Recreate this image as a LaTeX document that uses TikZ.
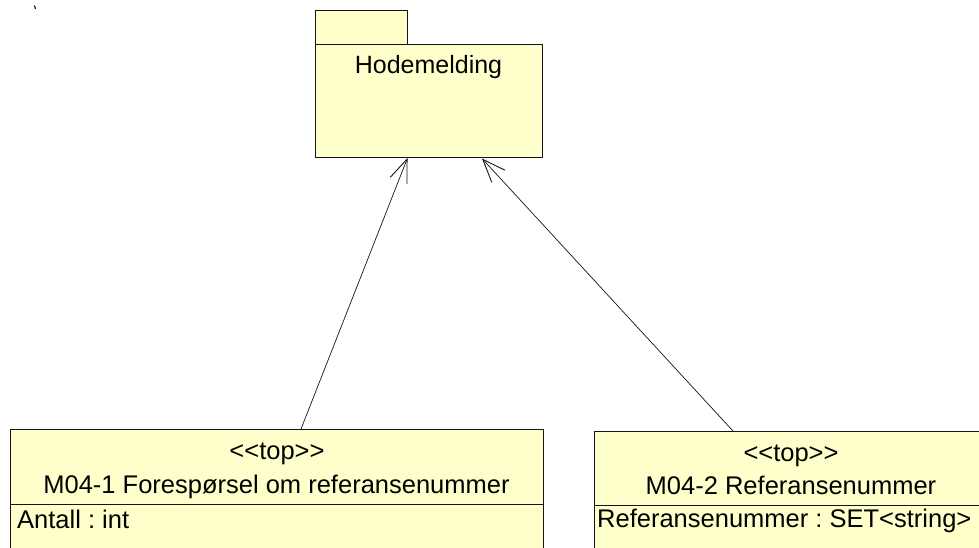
\documentclass[tikz,border=0pt]{standalone}
\usepackage{fontspec}
\setmainfont[Ligatures=NoCommon]{Liberation Sans}
\usetikzlibrary{arrows.meta}
\definecolor{umlfill}{RGB}{255,255,204}
\definecolor{umlline}{RGB}{20,20,20}
\frenchspacing
\tikzset{
  umlbox/.style={draw=umlline, fill=umlfill, line width=1pt},
  txt/.style={inner sep=0pt, anchor=base, font=\fontsize{25.5}{30}\selectfont},
  ltxt/.style={inner sep=0pt, anchor=base west, font=\fontsize{25.5}{30}\selectfont},
  gen/.style={draw=umlline, line width=0.7pt, -{Straight Barb[length=23pt, width=18pt, line width=0.9pt]}}
}
\newcommand{\lt}{\symbol{60}}
\newcommand{\gt}{\symbol{62}}
\begin{document}
\begin{tikzpicture}[x=1pt, y=-1pt]
\useasboundingbox (0,0) rectangle (979,547);
% stray mark
\draw[line width=1.2pt, umlline] (34.5,5.5) -- (35.5,9);
% package
\draw[umlbox] (315,10) rectangle (407,44);
\draw[umlbox] (315,44) rectangle (542,157);
\node[inner sep=0pt, minimum width=227pt, minimum height=113pt] (pkg) at (428.5,100.5) {};
\node[txt, font=\fontsize{25}{30}\selectfont] (pkgname) at (428.5,73) {Hodemelding};
% class 1
\draw[umlbox] (10,429) rectangle (543,560);
\draw[umlline, line width=1pt] (10,504) -- (543,504);
\node[inner sep=0pt, minimum width=533pt, minimum height=75pt] (c1) at (276.5,466.5) {};
\node[txt] (c1st) at (277,459) {\lt\lt top\gt\gt};
\node[txt] (c1name) at (276.5,493) {M04-1 Forespørsel om referansenummer};
\node[ltxt] (c1attr) at (17,528) {Antall : int};
% class 2
\draw[umlbox] (594,431) rectangle (990,560);
\draw[umlline, line width=1pt] (594,505) -- (990,505);
\node[inner sep=0pt, minimum width=396pt, minimum height=74pt] (c2) at (792,468) {};
\node[txt] (c2st) at (791,461) {\lt\lt top\gt\gt};
\node[txt] (c2name) at (791,494) {M04-2 Referansenummer};
\node[ltxt] (c2attr) at (597,527) {Referansenummer : SET\lt string\gt};
% connectors
\coordinate (a1s) at (301,429);
\coordinate (a1e) at (407.5,158);
\coordinate (a2s) at (733,431);
\coordinate (a2e) at (482,158.5);
\draw[gen] (a1s) -- (a1e);
\draw[gen] (a2s) -- (a2e);
\end{tikzpicture}
\end{document}
